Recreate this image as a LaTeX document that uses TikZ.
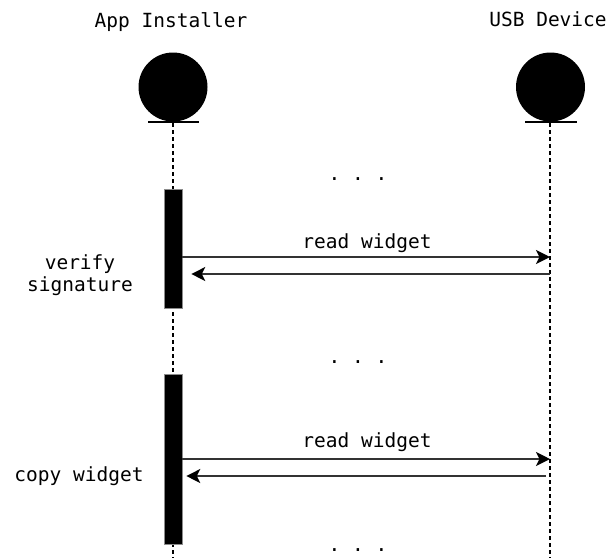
\documentclass[tikz,border=0pt]{standalone}
\usepackage{fontspec}
\setmonofont{DejaVu Sans Mono}
\usetikzlibrary{arrows.meta}
\begin{document}
\begin{tikzpicture}[x=1pt,y=-1pt,
  lbl/.style={font=\ttfamily\fontsize{19.5}{22}\selectfont, inner sep=0pt, anchor=base, text=black},
  actor/.style={circle, fill=black, minimum size=69pt, inner sep=0pt},
  groundline/.style={line width=1.7pt},
  lifeline/.style={dash pattern=on 4pt off 3pt, line width=1.1pt},
  actbar/.style={fill=black, draw=black!45, line width=0.6pt, minimum width=18pt, inner sep=0pt},
  msg/.style={line width=1.7pt, color=black!80, -{Stealth[length=14pt, width=14pt, inset=3.5pt, black]}}]
\useasboundingbox (0,0) rectangle (610,558);

% participants
\node[lbl] (tA) at (171,27) {App Installer};
\node[lbl] (tB) at (548,26) {USB Device};
\node[actor] (cA) at (173,87) {};
\node[actor] (cB) at (550.5,87) {};
\draw[groundline] (148,122) -- (199,122);
\draw[groundline] (525,122) -- (577,122);

% lifelines
\coordinate (lA) at (173,123);
\coordinate (lB) at (550,123);
\coordinate (eA) at (173,558);
\coordinate (eB) at (550,558);
\draw[lifeline] (lA) -- (eA);
\draw[lifeline] (lB) -- (eB);

% activations
\node[actbar, minimum height=119pt] (act1) at (173,248.5) {};
\node[actbar, minimum height=170pt] (act2) at (173,459) {};

% first exchange
\coordinate (m1) at (0,257);
\coordinate (r1) at (0,274);
\draw[msg] (act1.east |- m1) -- (lB |- m1);
\draw[msg] (lB |- r1) -- ([xshift=9pt]act1.east |- r1);
\node[lbl] (l1) at (367,248) {read widget};
\node[lbl, align=center] (v1) at (80,291) {verify\\signature};

% second exchange
\coordinate (m2) at (0,459);
\coordinate (r2) at (0,476);
\draw[msg] (act2.east |- m2) -- (lB |- m2);
\draw[msg] ([xshift=-4pt]lB |- r2) -- ([xshift=4pt]act2.east |- r2);
\node[lbl] (l2) at (367,447) {read widget};
\node[lbl] (c2) at (79,481) {copy widget};

% ellipses between phases
\node[lbl] (d1) at (358,180) {. . .};
\node[lbl] (d2) at (358,363) {. . .};
\node[lbl] (d3) at (358,551) {. . .};
\end{tikzpicture}
\end{document}
